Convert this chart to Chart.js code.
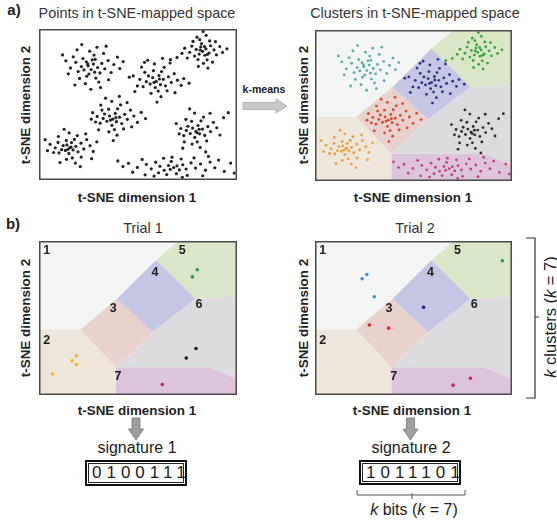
<!DOCTYPE html>
<html>
<head>
<meta charset="utf-8">
<script src="https://cdn.jsdelivr.net/npm/chart.js@4.4.0/dist/chart.umd.min.js"></script>
<style>
body{margin:0;background:#fff;width:557px;height:522px;position:relative;overflow:hidden;font-family:"Liberation Sans",Arial,sans-serif;color:#1c1c1c}
.t{position:absolute;white-space:nowrap;transform:translate(-50%,-50%);line-height:1}
.rot{transform:translate(-50%,-50%) rotate(-90deg)}
.ax{font-weight:bold;font-size:13.4px;color:#222}
canvas{position:absolute}
.box{position:absolute;box-sizing:border-box;border:2px solid #111;box-shadow:inset 0 0 0 1px #fff,inset 0 0 0 2px #222;font-size:17px;letter-spacing:5px;padding-left:5px;text-align:center}
svg{position:absolute;left:0;top:0}
</style>
</head>
<body>
<div class="t" style="left:14px;top:9px;font-weight:bold;font-size:15px">a)</div>
<div class="t" style="left:137px;top:13px;font-size:14.4px;color:#333">Points in t-SNE-mapped space</div>
<div class="t" style="left:415px;top:13px;font-size:14.4px;color:#333">Clusters in t-SNE-mapped space</div>
<div class="t rot ax" style="left:26px;top:105px">t-SNE dimension 2</div>
<div class="t rot ax" style="left:304px;top:105px">t-SNE dimension 2</div>
<div class="t ax" style="left:137px;top:198px">t-SNE dimension 1</div>
<div class="t ax" style="left:413px;top:198px">t-SNE dimension 1</div>
<div class="t" style="left:264px;top:89px;font-weight:bold;font-size:10.6px">k-means</div>

<div class="t" style="left:13px;top:223px;font-weight:bold;font-size:15px">b)</div>
<div class="t" style="left:143px;top:228px;font-size:14.4px;color:#333">Trial 1</div>
<div class="t" style="left:415px;top:228px;font-size:14.4px;color:#333">Trial 2</div>
<div class="t rot ax" style="left:26px;top:318px">t-SNE dimension 2</div>
<div class="t rot ax" style="left:304px;top:318px">t-SNE dimension 2</div>
<div class="t ax" style="left:137px;top:411px">t-SNE dimension 1</div>
<div class="t ax" style="left:412px;top:411px">t-SNE dimension 1</div>
<div class="t" style="left:137px;top:448px;font-size:16px">signature 1</div>
<div class="t" style="left:411px;top:448px;font-size:16px">signature 2</div>
<div id="sig1" class="box" style="left:85px;top:460px;width:102px;height:26px;line-height:22px"></div>
<div id="sig2" class="box" style="left:359px;top:460px;width:102px;height:25px;line-height:21px"></div>
<div class="t" style="left:414px;top:510px;font-size:16px"><i>k</i> bits (<i>k</i> = 7)</div>
<div class="t rot" style="left:550px;top:317px;font-size:16.5px"><i>k</i> clusters (<i>k</i> = 7)</div>

<canvas id="c1" width="206" height="159" style="left:35px;top:25px"></canvas>
<canvas id="c2" width="205" height="159" style="left:311px;top:26px"></canvas>
<canvas id="c3" width="206" height="162" style="left:35px;top:237px"></canvas>
<canvas id="c4" width="205" height="162" style="left:311px;top:237px"></canvas>

<svg width="557" height="522">
  <polygon points="243,102.5 276,102.5 276,99 287,106 276,113 276,109.5 243,109.5" fill="#c8c8c8" stroke="#a9a9a9" stroke-width="0.8"/>
  <polygon points="132,418 140,418 140,429 143.5,429 136,440 128.5,429 132,429" fill="#9e9e9e" stroke="#7a7a7a" stroke-width="0.8"/>
  <polygon points="406.5,418 414.5,418 414.5,429 418,429 410.5,440 403,429 406.5,429" fill="#9e9e9e" stroke="#7a7a7a" stroke-width="0.8"/>
  <path d="M526,238 H535 V398 H526 M535,317 H539" fill="none" stroke="#333" stroke-width="1.2"/>
  <path d="M357,490 V495 H465 V490 M412,493 V499" fill="none" stroke="#555" stroke-width="1"/>
</svg>

<script>
// cluster points in t-SNE space (0-100 on both axes)
var clusterA = [[26.3,73.1],[24.8,75.6],[28.1,71.4],[22.7,72.9],[27.5,76.8],[25.2,70.2],[29.6,74.5],[23.9,78.3],[30.8,70.9],[21.4,75.1],[26.9,79.6],[24.1,68.7],[31.7,77.2],[19.8,71.8],[28.7,67.5],[33.2,73.6],[22.2,80.4],[18.6,77.9],[27.8,82.7],[34.9,79.1],[20.5,67.3],[30.2,64.9],[15.9,74.2],[36.4,71.2],[25.6,85.3],[32.6,83.8],[17.3,81.6],[37.8,76.5],[23.4,63.8],[13.6,78.9],[39.6,81.4],[29.3,87.9],[14.8,70.3],[35.1,66.4],[19.2,86.2],[40.8,73.8],[26.2,60.1],[11.9,82.8],[33.9,88.6],[18.1,62.9],[42.5,78.4],[21.6,89.7],[31.1,61.2],[28.4,79.9],[24.6,76.9]];
var clusterB = [[82.6,85.2],[80.9,83.4],[84.3,86.9],[81.7,88.1],[83.8,82.6],[79.4,86.5],[85.9,84.1],[82.1,90.3],[78.6,82.1],[86.7,88.9],[80.3,79.8],[84.9,79.6],[77.2,88.7],[88.4,86.2],[81.2,92.9],[83.1,77.3],[89.6,82.9],[76.1,84.6],[86.2,92.1],[79.8,94.6],[91.3,88.4],[74.9,80.8],[87.6,78.1],[84.4,95.8],[92.7,84.5],[73.6,87.3],[80.5,75.2],[89.1,91.6],[77.8,91.8],[94.9,86.9],[85.3,74.1],[72.2,83.9],[82.9,98.3],[69.7,81.2],[66.4,79.7],[83.6,88.4],[81.4,86.1],[85.1,83.2]];
var clusterC = [[59.2,65.3],[57.4,67.8],[61.3,63.1],[56.1,63.6],[60.6,69.2],[62.8,66.7],[55.3,68.9],[58.7,61.2],[63.9,62.4],[54.2,65.1],[61.9,71.8],[57.8,72.4],[65.4,68.3],[52.6,61.8],[60.2,58.9],[66.8,64.6],[53.4,71.3],[63.2,74.6],[50.9,66.7],[56.6,57.4],[68.3,70.4],[49.7,62.3],[64.7,59.1],[58.3,76.9],[69.9,66.1],[51.8,74.8],[61.6,55.2],[47.6,68.9],[71.8,62.7],[54.9,79.3],[66.2,77.5],[45.6,68.1],[73.1,67.2],[59.6,51.6],[48.4,58.6],[68.7,57.8],[62.4,80.6],[53.3,77.9],[75.8,64.1],[58.1,64.6],[60.8,66.9]];
var clusterD = [[37.2,40.3],[35.6,42.4],[39.1,38.6],[34.3,38.9],[38.5,44.1],[40.7,41.6],[33.1,43.7],[36.8,36.2],[41.8,37.4],[32.4,40.8],[39.7,47.2],[35.2,46.9],[43.3,43.5],[30.9,37.6],[38.1,33.4],[44.6,40.2],[31.8,46.3],[41.2,49.8],[29.4,42.1],[35.3,31.9],[46.2,46.3],[28.6,38.4],[42.7,33.8],[36.7,52.1],[47.9,42.4],[31.2,49.6],[39.4,29.7],[27.1,44.6],[49.7,38.1],[33.6,54.2],[44.5,51.3],[26.4,40.3],[51.6,44.8],[37.5,26.1],[30.1,33.2],[46.8,35.2],[40.6,55.4],[53.8,40.7],[36.1,39.7],[38.8,41.3]];
var clusterE = [[15.6,21.4],[14.1,23.2],[17.2,19.9],[13.3,19.6],[16.4,24.8],[18.6,22.3],[12.2,22.8],[15.1,17.6],[19.7,18.7],[11.4,20.1],[17.9,26.9],[13.8,26.1],[21.2,24.4],[10.1,17.9],[16.8,14.6],[22.6,20.6],[9.6,24.9],[19.3,29.4],[8.2,21.3],[13.9,13.7],[24.1,26.8],[7.4,18.2],[21.3,15.2],[15.2,31.2],[25.8,22.7],[9.8,28.8],[18.4,11.2],[5.6,23.6],[27.4,18.9],[12.7,33.6],[23.6,30.6],[4.3,19.4],[29.2,25.3],[10.6,11.6],[20.8,8.9],[3.1,26.7],[26.6,14.1],[16.2,21.8],[14.6,20.3]];
var clusterF = [[79.2,32.3],[77.6,34.4],[81.1,30.6],[76.4,30.8],[80.3,36.1],[82.6,33.7],[75.2,35.6],[78.7,28.2],[83.7,29.5],[74.4,32.8],[81.8,39.2],[77.1,38.9],[85.3,35.4],[73.1,29.4],[79.9,25.3],[86.6,32.1],[74.2,40.2],[83.1,41.7],[71.6,34.1],[77.3,23.8],[88.1,38.2],[70.8,30.6],[84.7,25.9],[78.6,44.3],[89.8,34.6],[73.4,25.2],[81.4,21.6],[69.3,37.4],[91.4,29.8],[76.1,47.1],[86.4,44.2],[72.6,21.1],[93.2,41.3],[84.2,18.6],[95.6,44.6],[79.8,31.4],[80.9,33.6]];
var clusterG = [[68.1,8.2],[65.4,9.6],[70.9,6.7],[63.2,6.4],[72.6,10.1],[66.8,12.3],[61.1,9.1],[74.3,7.3],[69.4,4.2],[58.9,11.8],[76.8,11.4],[64.5,3.6],[79.1,7.9],[56.7,7.4],[71.8,13.9],[60.4,4.8],[81.6,10.6],[54.2,10.3],[74.9,3.1],[67.2,15.1],[84.1,6.5],[52.1,13.6],[78.3,14.6],[58.1,2.6],[86.4,11.9],[49.7,8.3],[82.7,2.8],[62.9,14.4],[88.8,8.1],[47.3,5.2],[72.4,1.8],[90.7,13.2],[45.2,11.1],[85.6,15.6],[53.6,3.4],[93.6,5.7],[42.4,8.9],[96.8,11.2],[98.6,4.6],[39.8,12.6],[69.7,9.4],[66.3,7.1]];
var clusters = [clusterA, clusterB, clusterC, clusterD, clusterE, clusterF, clusterG];
var clusterColors = ['#5aaba7', '#3aa336', '#27357d', '#d9462b', '#e6a23c', '#2a2a2a', '#c8407e'];

// k-means cells 1..7 (polygon corners in the same space)
var cell1 = [[0,100],[70.4,100],[59.2,87.7],[39.3,62.3],[20.9,42.6],[0,42.6]];
var cell2 = [[0,42.6],[20.9,42.6],[38.8,18],[38.8,0],[0,0]];
var cell3 = [[20.9,42.6],[39.3,62.3],[57.3,40.7],[38.8,18]];
var cell4 = [[39.3,62.3],[59.2,87.7],[79.1,62.3],[57.3,40.7]];
var cell5 = [[70.4,100],[100,100],[100,64.2],[79.1,62.3],[59.2,87.7]];
var cell6 = [[79.1,62.3],[100,64.2],[100,10.5],[86.4,17.9],[38.8,18],[57.3,40.7]];
var cell7 = [[38.8,18],[86.4,17.9],[100,10.5],[100,0],[38.8,0]];
var cells = [cell1, cell2, cell3, cell4, cell5, cell6, cell7];
var cellColors = ['#f3f5f5', '#eee6da', '#e9d1cd', '#c4c6e3', '#d9e7c6', '#dcdcde', '#dcc5dc'];
var cellLabelPos = [[3.9,93.8],[3.9,35.2],[37.5,56.2],[58.6,79.8],[72.3,93.8],[80.8,58.6],[39.9,12.3]];

// two trials: sampled points per cell
var trial1Cells = [2, 5, 6, 7];
var trial1Points = [
  [[18.9,25.5],[16.7,22.2],[18.9,19.8],[6.8,13.6]],
  [[79.9,81.3],[77.5,76.7]],
  [[79.3,30.2],[74.4,24]],
  [[62.3,6.8]]
];
var trial1Colors = ['#efb52a', '#2e9a3e', '#111111', '#c82060'];
var trial2Cells = [1, 3, 4, 5, 7];
var trial2Points = [
  [[26.3,78.2],[23.9,75.5],[30.1,63.8]],
  [[27.6,45.5],[37.4,43.4]],
  [[55.1,57]],
  [[95.1,87.2]],
  [[78.9,10.9],[70.1,6.4]]
];
var trial2Colors = ['#3c8fd0', '#d8262a', '#1a2580', '#2e9a3e', '#c82060'];

var signature1 = [0,1,0,0,1,1,1];
var signature2 = [1,0,1,1,1,0,1];

document.getElementById('sig1').textContent = signature1.join('');
document.getElementById('sig2').textContent = signature2.join('');

function toXY(arr) {
  return arr.map(function(p){ return {x: p[0], y: p[1]}; });
}

var panelPlugin = {
  id: 'panel',
  beforeDatasetsDraw: function(chart, args, opts) {
    if (!opts.cells) return;
    var ctx = chart.ctx, xs = chart.scales.x, ys = chart.scales.y;
    ctx.save();
    cells.forEach(function(poly, i) {
      ctx.beginPath();
      poly.forEach(function(p, j) {
        var px = xs.getPixelForValue(p[0]), py = ys.getPixelForValue(p[1]);
        if (j) ctx.lineTo(px, py); else ctx.moveTo(px, py);
      });
      ctx.closePath();
      ctx.fillStyle = cellColors[i];
      ctx.fill();
    });
    ctx.restore();
  },
  afterDatasetsDraw: function(chart, args, opts) {
    var ctx = chart.ctx, xs = chart.scales.x, ys = chart.scales.y;
    ctx.save();
    if (opts.labels) {
      ctx.font = 'bold 12.5px "Liberation Sans", Arial, sans-serif';
      ctx.fillStyle = '#1c1c1c';
      ctx.textAlign = 'center';
      ctx.textBaseline = 'middle';
      cellLabelPos.forEach(function(p, i) {
        ctx.fillText(String(i + 1), xs.getPixelForValue(p[0]), ys.getPixelForValue(p[1]));
      });
    }
    var a = chart.chartArea;
    ctx.strokeStyle = '#4a4a4a';
    ctx.lineWidth = 1.5;
    ctx.strokeRect(a.left + 0.75, a.top + 0.75, a.right - a.left - 1.5, a.bottom - a.top - 1.5);
    ctx.restore();
  }
};

function makePanel(id, datasets, cellsOn, labelsOn) {
  return new Chart(document.getElementById(id), {
    type: 'scatter',
    data: { datasets: datasets },
    options: {
      responsive: false,
      animation: false,
      layout: { padding: 0 },
      scales: {
        x: { min: 0, max: 100, display: false },
        y: { min: 0, max: 100, display: false }
      },
      plugins: {
        legend: { display: false },
        tooltip: { enabled: false },
        panel: { cells: cellsOn, labels: labelsOn }
      }
    },
    plugins: [panelPlugin]
  });
}

makePanel('c1', clusters.map(function(c){
  return { data: toXY(c), backgroundColor: '#222', pointRadius: 1.6, borderWidth: 0 };
}), false, false);

makePanel('c2', clusters.map(function(c, i){
  return { data: toXY(c), backgroundColor: clusterColors[i], pointRadius: 1.4, borderWidth: 0 };
}), true, false);

makePanel('c3', trial1Points.map(function(c, i){
  return { label: 'cell ' + trial1Cells[i], data: toXY(c), backgroundColor: trial1Colors[i], pointRadius: 1.8, borderWidth: 0 };
}), true, true);

makePanel('c4', trial2Points.map(function(c, i){
  return { label: 'cell ' + trial2Cells[i], data: toXY(c), backgroundColor: trial2Colors[i], pointRadius: 1.8, borderWidth: 0 };
}), true, true);
</script>
</body>
</html>
